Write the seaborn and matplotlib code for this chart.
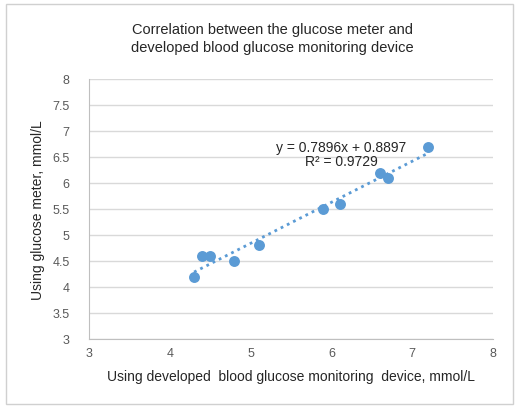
import matplotlib
matplotlib.use('Agg')
import matplotlib.pyplot as plt
import seaborn as sns
import numpy as np
import pandas as pd
from matplotlib.patches import Rectangle

# Duomenys
device = [4.3, 4.4, 4.5, 4.8, 5.1, 5.9, 6.1, 6.6, 6.7, 7.2]
meter = [4.2, 4.6, 4.6, 4.5, 4.8, 5.5, 5.6, 6.2, 6.1, 6.7]
x_ticks = [3, 4, 5, 6, 7, 8]
y_ticks = [3, 3.5, 4, 4.5, 5, 5.5, 6, 6.5, 7, 7.5, 8]
eq_text = 'y = 0.7896x + 0.8897\nR² = 0.9729'

df = pd.DataFrame({'device': device, 'meter': meter})

sns.set_style('white')
plt.rcParams['font.family'] = ['Liberation Sans', 'DejaVu Sans']

blue = '#5B9BD5'
grey = '#595959'

fig = plt.figure(figsize=(5.19, 4.10), dpi=100)
ax = fig.add_axes([0.1715, 0.171, 0.7785, 0.634])

# Rėmelis aplink visą grafiką
fig.patches.append(Rectangle((0.012, 0.012), 0.976, 0.975, transform=fig.transFigure,
                             fill=False, edgecolor='#d0d0d0', linewidth=1))

sns.regplot(data=df, x='device', y='meter', ax=ax, ci=None, truncate=True,
            scatter_kws={'s': 62, 'color': blue, 'alpha': 1, 'linewidths': 0, 'zorder': 3},
            line_kws={'color': blue, 'linestyle': (0, (1, 1.5)), 'linewidth': 2, 'zorder': 2})

ax.set_xlim(3, 8)
ax.set_ylim(3, 8)
ax.set_xticks(x_ticks)
ax.set_yticks(y_ticks)
ax.set_xticklabels([f'{t:g}' for t in x_ticks])
ax.set_yticklabels([f'{t:g}' for t in y_ticks])
ax.tick_params(axis='both', labelsize=9, colors=grey, length=0)
ax.tick_params(axis='x', pad=6)
ax.tick_params(axis='y', pad=14)
ax.yaxis.grid(True, color='#d9d9d9', linewidth=1)
ax.set_axisbelow(True)
for s in ['top', 'right']:
    ax.spines[s].set_visible(False)
for s in ['left', 'bottom']:
    ax.spines[s].set_color('#bfbfbf')

ax.set_xlabel('Using developed  blood glucose monitoring  device, mmol/L', fontsize=10, color='#262626', labelpad=7)
ax.set_ylabel('Using glucose meter, mmol/L', fontsize=10, color='#262626', labelpad=5)

ax.text(6.12, 6.55, eq_text, ha='center', va='center', fontsize=10, color='#262626',
        linespacing=1.0)

fig.text(0.525, 0.905, 'Correlation between the glucose meter and\ndeveloped blood glucose monitoring device',
         ha='center', va='center', fontsize=10.5, color='#262626', linespacing=1.3)

fig.savefig('out.png', dpi=100)
